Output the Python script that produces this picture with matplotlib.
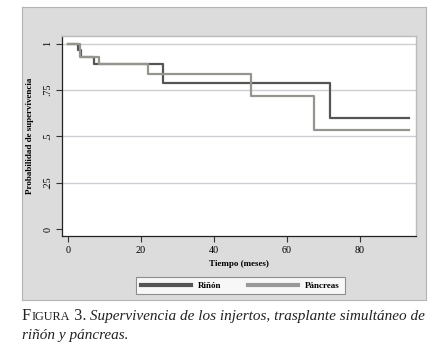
import matplotlib.pyplot as plt
from matplotlib.lines import Line2D

# Kaplan-Meier steps
rinon_t = [0, 2.8, 3.5, 7.2, 26, 72, 93.7]
rinon_s = [1, 0.963, 0.926, 0.889, 0.787, 0.597, 0.597]
pancreas_t = [0, 3.3, 8.4, 22, 50.3, 67.5, 93.7]
pancreas_s = [1, 0.926, 0.889, 0.838, 0.717, 0.536, 0.536]

xticks = [0, 20, 40, 60, 80]
yticks = [0, 0.25, 0.5, 0.75, 1]
ylabels = ["0", ".25", ".5", ".75", "1"]

W, H = 434, 350
plt.rcParams['font.family'] = ['Liberation Serif', 'DejaVu Serif']
fig = plt.figure(figsize=(W / 100, H / 100), dpi=100)

def px(x0, y0, x1, y1):
    return [x0 / W, 1 - y1 / H, (x1 - x0) / W, (y1 - y0) / H]

# grey Stata-like background panel
bg = fig.add_axes(px(22, 7, 426, 300), zorder=-5)
bg.set_facecolor('#dcdcdc')
bg.set_xticks([])
bg.set_yticks([])
for s in bg.spines.values():
    s.set_color('#b4b4b4')
    s.set_linewidth(0.8)

ax = fig.add_axes(px(62, 36, 416, 236))
ax.set_facecolor('white')
ax.step(rinon_t, rinon_s, where='post', color='#555555', lw=1.6, zorder=3)
ax.step(pancreas_t, pancreas_s, where='post', color='#92968f', lw=1.6, zorder=4)

ax.set_xlim(-1.7, 95.5)
ax.set_ylim(-0.036, 1.041)
ax.set_xticks(xticks)
ax.set_yticks(yticks)
ax.set_yticklabels(ylabels, rotation=90, va='center')
ax.tick_params(labelsize=7.3, length=4, width=0.8, color='#333333', pad=3)
for y in yticks[1:]:
    ax.axhline(y, color='#d0ccd4', lw=1.0, zorder=1)

for s in ['left', 'bottom']:
    ax.spines[s].set_color('#222222')
    ax.spines[s].set_linewidth(0.9)
for s in ['top', 'right']:
    ax.spines[s].set_color('#bbbbbb')
    ax.spines[s].set_linewidth(1.0)

ax.set_ylabel("Probabilidad de supervivencia", fontsize=6.5, fontweight='bold', labelpad=7)
ax.set_xlabel("Tiempo (meses)", fontsize=6.5, fontweight='bold', labelpad=4)

handles = [Line2D([], [], color='#555555', lw=3),
           Line2D([], [], color='#999999', lw=3)]
leg = fig.legend(handles, ["Riñón", "Páncreas"], loc='center',
                 bbox_to_anchor=(240.5 / W, 1 - 285.5 / H), ncol=2,
                 prop={'size': 6.5, 'weight': 'bold'}, frameon=True,
                 fancybox=False, handlelength=5.5, columnspacing=3,
                 borderpad=0.5)
leg.get_frame().set_edgecolor('#777777')
leg.get_frame().set_linewidth(0.8)

# caption, pieces chained left to right
r = fig.canvas.get_renderer()
pieces = [("F", 11.8, 'normal'), ("IGURA", 8.8, 'normal'), (" 3.", 11.8, 'normal'),
          (" Supervivencia de los injertos, trasplante simultáneo de", 11.0, 'italic')]
x = 22
for txt, size, st in pieces:
    t = fig.text(x / W, 1 - 320 / H, txt, fontsize=size, style=st, color='#222222')
    x += t.get_window_extent(r).width
fig.text(22 / W, 1 - 339 / H, "riñón y páncreas.", fontsize=11.0, style='italic',
         color='#222222')

fig.savefig('out.png', dpi=100)
